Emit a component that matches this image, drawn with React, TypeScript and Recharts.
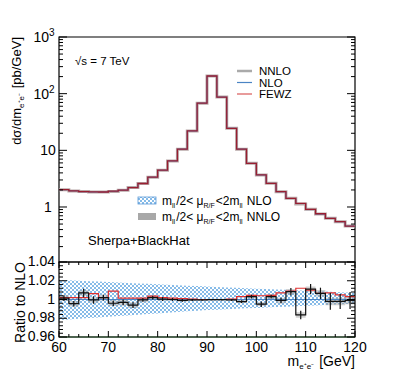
import React from 'react';
import { ComposedChart, Line, Area, Scatter, ErrorBar, XAxis, YAxis, ReferenceArea, ReferenceLine } from 'recharts';

const FONT = '"Liberation Sans", Arial, Helvetica, sans-serif';

// 2 GeV bins, lower edges
const binLow = [60, 62, 64, 66, 68, 70, 72, 74, 76, 78, 80, 82, 84, 86, 88, 90, 92, 94, 96, 98, 100, 102, 104, 106, 108, 110, 112, 114, 116, 118];
const binEdges = [...binLow, 120];

// dsigma/dm [pb/GeV]
const nnloXs = [2.02, 1.92, 1.87, 1.84, 1.84, 1.88, 1.97, 2.2, 2.6, 3.35, 4.45, 6.5, 10.5, 22, 68, 205, 87, 24.5, 10.5, 5.9, 3.67, 2.62, 1.86, 1.42, 1.13, 0.91, 0.75, 0.63, 0.55, 0.46];
const nloXs = [2.02, 1.93, 1.86, 1.84, 1.84, 1.89, 1.98, 2.21, 2.6, 3.35, 4.45, 6.5, 10.5, 22, 68, 205, 87, 24.5, 10.5, 5.88, 3.68, 2.61, 1.86, 1.41, 1.15, 0.9, 0.75, 0.63, 0.55, 0.46];
const fewzXs = [2.03, 1.93, 1.87, 1.85, 1.84, 1.9, 1.98, 2.2, 2.6, 3.36, 4.46, 6.51, 10.5, 22, 68, 205, 87, 24.5, 10.5, 5.91, 3.69, 2.62, 1.87, 1.42, 1.16, 0.91, 0.76, 0.63, 0.55, 0.46];

// ratios to NLO
const ratioNnlo = [1.0015, 0.9955, 1.007, 0.9995, 1.002, 0.996, 0.997, 0.994, 0.9995, 1.002, 1.0005, 1.0, 0.999, 0.9995, 0.9995, 0.9998, 0.9998, 0.9995, 0.9977, 1.003, 0.995, 1.003, 0.999, 1.0083, 0.9835, 1.011, 1.0066, 0.998, 0.998, 0.999];
const ratioFewz = [1.002, 1.002, 1.002, 1.0062, 1.002, 1.009, 1.0015, 1.0015, 1.0015, 1.0035, 1.002, 1.0015, 1.001, 1.0005, 1.0, 1.0, 1.0, 1.0005, 1.003, 1.0045, 1.004, 1.0045, 1.007, 1.009, 1.012, 1.01, 1.0065, 1.007, 1.005, 1.003];
const statErr = [0.003, 0.003, 0.0045, 0.004, 0.003, 0.003, 0.003, 0.003, 0.002, 0.002, 0.002, 0.0015, 0.0015, 0.001, 0.0008, 0.0006, 0.0008, 0.001, 0.0015, 0.002, 0.003, 0.002, 0.003, 0.004, 0.0045, 0.0055, 0.006, 0.009, 0.008, 0.009];
const nnloScaleErr = [0.003, 0.003, 0.003, 0.003, 0.003, 0.003, 0.003, 0.003, 0.0025, 0.002, 0.002, 0.0015, 0.0015, 0.001, 0.001, 0.001, 0.001, 0.001, 0.0015, 0.002, 0.002, 0.0025, 0.003, 0.003, 0.003, 0.003, 0.0035, 0.004, 0.004, 0.004];
// NLO scale band at bin edges (60..120)
const nloBandHi = [1.021, 1.0205, 1.02, 1.0196, 1.0191, 1.0186, 1.0181, 1.0176, 1.0172, 1.0167, 1.0162, 1.0157, 1.0152, 1.0148, 1.0143, 1.0138, 1.0134, 1.0129, 1.0125, 1.012, 1.0116, 1.0112, 1.0107, 1.0103, 1.0098, 1.0094, 1.009, 1.0085, 1.0081, 1.0076, 1.0072];
const nloBandLo = [0.978, 0.9787, 0.9794, 0.9802, 0.9809, 0.9816, 0.9823, 0.983, 0.9838, 0.9845, 0.9852, 0.9859, 0.9866, 0.9874, 0.9881, 0.9888, 0.9892, 0.9897, 0.9901, 0.9906, 0.991, 0.9915, 0.9919, 0.9924, 0.9928, 0.9933, 0.9937, 0.9942, 0.9946, 0.9951, 0.9955];

const xTicks = [60, 62, 64, 66, 68, 70, 72, 74, 76, 78, 80, 82, 84, 86, 88, 90, 92, 94, 96, 98, 100, 102, 104, 106, 108, 110, 112, 114, 116, 118, 120];
const logMajor = [1, 10, 100, 1000];
const logTicks = [0.2, 0.3, 0.4, 0.5, 0.6, 0.7, 0.8, 0.9, 1, 2, 3, 4, 5, 6, 7, 8, 9, 10, 20, 30, 40, 50, 60, 70, 80, 90, 100, 200, 300, 400, 500, 600, 700, 800, 900, 1000];
const ratioMajor = [0.96, 0.98, 1, 1.02, 1.04];
const ratioTicks = [0.96, 0.964, 0.968, 0.972, 0.976, 0.98, 0.984, 0.988, 0.992, 0.996, 1, 1.004, 1.008, 1.012, 1.016, 1.02, 1.024, 1.028, 1.032, 1.036, 1.04];

// frame geometry (px)
const W = 395;
const LEFT = 59;
const RIGHT = 355;
const TOP = 37;

// rows at bin edges, last edge repeats the last bin so steps close at 120
const topRows = binEdges.map((x, i) => {
  const b = Math.min(i, binLow.length - 1);
  return { x, nnlo: nnloXs[b], nlo: nloXs[b], fewz: fewzXs[b] };
});
const ratioRows = binEdges.map((x, i) => {
  const b = Math.min(i, binLow.length - 1);
  return {
    x,
    rN: ratioNnlo[b],
    rF: ratioFewz[b],
    grey: [ratioNnlo[b] - nnloScaleErr[b], ratioNnlo[b] + nnloScaleErr[b]],
    band: [nloBandLo[i], nloBandHi[i]],
  };
});
const centerRows = binLow.map((x, i) => ({ x: x + 1, r: ratioNnlo[i], err: statErr[i] }));

const TopXTick = (props: any) => {
  const { x, y, payload } = props;
  const len = payload.value % 10 === 0 ? 8 : 4;
  return (
    <g>
      <line x1={x} x2={x} y1={y} y2={y - len} stroke="#000" />
      <line x1={x} x2={x} y1={TOP} y2={TOP + len} stroke="#000" />
    </g>
  );
};

const RatioXTick = (props: any) => {
  const { x, y, payload } = props;
  const major = payload.value % 10 === 0;
  const len = major ? 6 : 3;
  return (
    <g>
      <line x1={x} x2={x} y1={y} y2={y - len} stroke="#000" />
      <line x1={x} x2={x} y1={y - 75} y2={y - 75 + len} stroke="#000" />
      {major && (
        <text x={x} y={y + 15} textAnchor="middle" fontSize={14} fontFamily={FONT} fill="#000">
          {payload.value}
        </text>
      )}
    </g>
  );
};

const LogYTick = (props: any) => {
  const { x, y, payload } = props;
  const v = payload.value;
  const major = logMajor.includes(v);
  const len = major ? 8 : 4;
  let label: React.ReactNode = null;
  if (v === 1 || v === 10) {
    label = (
      <text x={x - 11} y={y + 5} textAnchor="middle" fontSize={14} fontFamily={FONT} fill="#000">
        {v}
      </text>
    );
  } else if (v === 100 || v === 1000) {
    label = (
      <text x={x - 15} y={y + 5} textAnchor="middle" fontSize={14} fontFamily={FONT} fill="#000">
        10<tspan dy={-6} fontSize={10}>{v === 100 ? 2 : 3}</tspan>
      </text>
    );
  }
  return (
    <g>
      <line x1={x} x2={x + len} y1={y} y2={y} stroke="#000" />
      <line x1={RIGHT} x2={RIGHT - len} y1={y} y2={y} stroke="#000" />
      {label}
    </g>
  );
};

const RatioYTick = (props: any) => {
  const { x, y, payload } = props;
  const v = payload.value;
  const major = ratioMajor.includes(v);
  const len = major ? 8 : 4;
  return (
    <g>
      <line x1={x} x2={x + len} y1={y} y2={y} stroke="#000" />
      <line x1={RIGHT} x2={RIGHT - len} y1={y} y2={y} stroke="#000" />
      {major && (
        <text x={x - 4} y={y + 4} textAnchor="end" fontSize={14} fontFamily={FONT} fill="#000">
          {v === 1 ? '1' : v.toFixed(2)}
        </text>
      )}
    </g>
  );
};

const NoShape = () => <g />;

const sub = (t: string, size = 8) => (
  <>
    <tspan dy={3} fontSize={size}>{t}</tspan>
    <tspan dy={-3}>{'\u200a'}</tspan>
  </>
);

export default function App() {
  return (
    <div style={{ position: 'absolute', left: 0, top: 0, width: W, height: 375, background: '#fff', fontFamily: FONT }}>
      <svg width={0} height={0} style={{ position: 'absolute' }}>
        <defs>
          <pattern id="hatch" width={4} height={4} patternUnits="userSpaceOnUse">
            <rect x={0} y={0} width={2} height={2} fill="#86bbe8" />
            <rect x={2} y={2} width={2} height={2} fill="#86bbe8" />
          </pattern>
        </defs>
      </svg>

      {/* main spectrum */}
      <div style={{ position: 'absolute', left: 0, top: 0 }}>
        <ComposedChart width={W} height={270} data={topRows} margin={{ top: TOP, right: W - RIGHT, bottom: 8, left: 0 }}>
          <XAxis dataKey="x" type="number" domain={[60, 120]} ticks={xTicks} interval={0} height={0}
            tickSize={0} tickMargin={0} axisLine={false} tick={TopXTick} />
          <YAxis type="number" scale="log" domain={[0.107, 1000]} allowDataOverflow ticks={logTicks} interval={0}
            width={LEFT} tickSize={0} tickMargin={0} axisLine={false} tick={LogYTick} />
          <ReferenceArea x1={60} x2={120} y1={0.107} y2={1000} fill="none" stroke="#000" strokeWidth={1.2} />
          <Line type="stepAfter" dataKey="nnlo" stroke="#b8a8a8" strokeWidth={3} dot={false} isAnimationActive={false} />
          <Line type="stepAfter" dataKey="nlo" stroke="#4a84c4" strokeWidth={1} dot={false} isAnimationActive={false} />
          <Line type="stepAfter" dataKey="fewz" stroke="#9a1e30" strokeWidth={1.3} dot={false} isAnimationActive={false} />
        </ComposedChart>
      </div>

      {/* ratio panel */}
      <div style={{ position: 'absolute', left: 0, top: 245 }}>
        <ComposedChart width={W} height={130} data={ratioRows} margin={{ top: 17, right: W - RIGHT, bottom: 0, left: 0 }}>
          <XAxis dataKey="x" type="number" domain={[60, 120]} ticks={xTicks} interval={0} height={38}
            tickSize={0} tickMargin={0} axisLine={false} tick={RatioXTick} />
          <YAxis type="number" domain={[0.96, 1.04]} allowDataOverflow ticks={ratioTicks} interval={0}
            width={LEFT} tickSize={0} tickMargin={0} axisLine={false} tick={RatioYTick} />
          <Area type="linear" dataKey="band" fill="url(#hatch)" stroke="none" fillOpacity={1} dot={false} activeDot={false} isAnimationActive={false} />
          <ReferenceLine y={1} stroke="#4a84c4" strokeWidth={1} />
          <Area type="stepAfter" dataKey="grey" fill="#999" fillOpacity={0.45} stroke="none" dot={false} activeDot={false} isAnimationActive={false} />
          <Line type="stepAfter" dataKey="rF" stroke="#e03030" strokeWidth={1.2} dot={false} isAnimationActive={false} />
          <Line type="stepAfter" dataKey="rN" stroke="#111" strokeWidth={1.2} dot={false} isAnimationActive={false} />
          <Scatter data={centerRows} dataKey="r" shape={NoShape} isAnimationActive={false}>
            <ErrorBar dataKey="err" direction="y" width={0} stroke="#111" strokeWidth={1.2} isAnimationActive={false} />
          </Scatter>
          <ReferenceArea x1={60} x2={120} y1={0.96} y2={1.04} fill="none" stroke="#000" strokeWidth={1.2} />
          <ReferenceLine y={0.96} stroke="#1e4a22" strokeWidth={1.2} />
        </ComposedChart>
      </div>

      {/* texts */}
      <svg width={W} height={375} style={{ position: 'absolute', left: 0, top: 0, pointerEvents: 'none' }}>
        <g fontFamily={FONT} fill="#000">
          <text x={21} y={TOP} fontSize={13} textAnchor="end" transform={`rotate(-90 21 ${TOP})`}>
            dσ/dm{sub('e\u207ae\u207b')} [pb/GeV]
          </text>
          <text x={25} y={262} fontSize={14} textAnchor="end" transform="rotate(-90 25 262)">
            Ratio to NLO
          </text>
          <text x={RIGHT} y={366} fontSize={14} textAnchor="end">
            m{sub('e\u207ae\u207b')} [GeV]
          </text>
          <text x={75} y={65} fontSize={11.5}>√s = 7 TeV</text>

          <line x1={237} x2={252} y1={71} y2={71} stroke="#aaa" strokeWidth={2.5} />
          <line x1={237} x2={252} y1={82.5} y2={82.5} stroke="#4a84c4" strokeWidth={1.2} />
          <line x1={237} x2={252} y1={94} y2={94} stroke="#d85858" strokeWidth={1.2} />
          <text x={259} y={75} fontSize={11.5}>NNLO</text>
          <text x={259} y={86.5} fontSize={11.5}>NLO</text>
          <text x={259} y={98} fontSize={11.5}>FEWZ</text>

          <rect x={138} y={197} width={18} height={7} fill="url(#hatch)" stroke="#5a9ad8" strokeWidth={0.8} />
          <rect x={138} y={213} width={18} height={7} fill="#a8a8a8" />
          <text x={162} y={205} fontSize={12}>
            m{sub('ll', 7)}/2&lt; μ{sub('R/F', 7)}&lt;2m{sub('ll', 7)} NLO
          </text>
          <text x={162} y={221} fontSize={12}>
            m{sub('ll', 7)}/2&lt; μ{sub('R/F', 7)}&lt;2m{sub('ll', 7)} NNLO
          </text>
          <text x={88} y={245} fontSize={13}>Sherpa+BlackHat</text>
        </g>
      </svg>
    </div>
  );
}
